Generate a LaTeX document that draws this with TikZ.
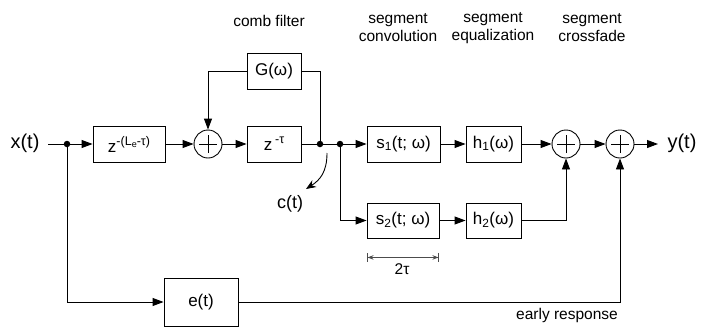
\documentclass[tikz,border=0pt]{standalone}
\usepackage{fontspec}
\setmainfont{Liberation Sans}
\usetikzlibrary{arrows.meta}
\newcommand{\supr}[1]{\raisebox{7pt}{\fontsize{12.5}{13}\selectfont #1}}
\newcommand{\subl}[1]{\raisebox{-2pt}{\fontsize{9}{9}\selectfont #1}}
\begin{document}
\begin{tikzpicture}[x=1pt,y=-1pt,
 blk/.style={draw,line width=0.9pt,minimum height=36pt,inner sep=0pt,font=\fontsize{17}{20}\selectfont},
 sumc/.style={draw,circle,minimum size=28pt,inner sep=0pt,line width=0.9pt},
 dotn/.style={circle,fill,inner sep=0pt,minimum size=6.5pt},
 conn/.style={line width=0.9pt},
 arr/.style={conn,-{Triangle[length=11pt,width=8pt]}},
 capt/.style={font=\fontsize{15.5}{18}\selectfont,align=center},
 big/.style={font=\fontsize{20}{24}\selectfont}]
\useasboundingbox (0,0) rectangle (712,327);

% top captions
\node[capt] (capcomb) at (269,21) {comb filter};
\node[capt] (capconv) at (398,28) {segment\\convolution};
\node[capt] (capeq) at (493,28) {segment\\equalization};
\node[capt] (capcf) at (592,28) {segment\\crossfade};

% nodes
\node[big] (x) at (25,143) {x(t)};
\coordinate (xin) at (48,144);
\node[dotn] (d1) at (67,144) {};
\node[blk,minimum width=72pt] (del) at (129,144) {z\supr{-(L\subl{e}-τ)}};
\node[sumc] (s1sum) at (208,144) {};
\node[blk,minimum width=54pt] (zt) at (274,144) {z\,\supr{-τ}};
\node[blk,minimum width=54pt] (G) at (274,71) {G(ω)};
\node[dotn] (d2) at (320,144) {};
\node[dotn] (d3) at (340,144) {};
\node[blk,minimum width=73pt] (s1) at (403.5,144) {s\textsubscript{1}(t; ω)};
\node[blk,minimum width=55pt] (h1) at (493.5,144) {h\textsubscript{1}(ω)};
\node[sumc] (sum2) at (566,144) {};
\node[sumc] (sum3) at (620,144) {};
\coordinate (yout) at (658,144);
\node[big] (y) at (682,143) {y(t)};
\node[blk,minimum width=72pt,minimum height=35pt] (s2) at (403,220.5) {s\textsubscript{2}(t; ω)};
\node[blk,minimum width=55pt,minimum height=35pt] (h2) at (493.5,220.5) {h\textsubscript{2}(ω)};
\node[blk,minimum width=74pt,minimum height=48pt] (e) at (201,302) {e(t)};
\node[capt] (early) at (567,315) {early response};
\node[font=\fontsize{18}{20}\selectfont] (ct) at (290,204) {c(t)};
\coordinate (cs) at (327,153);
\coordinate (ce) at (306,189);

% plus signs
\foreach \n in {s1sum,sum2,sum3}{
  \draw[conn] ([xshift=-9pt]\n.center) -- ([xshift=9pt]\n.center);
  \draw[conn] ([yshift=-9pt]\n.center) -- ([yshift=9pt]\n.center);
}

% connectors
\draw[conn] (xin) -- (d1);
\draw[arr] (d1) -- (del);
\draw[arr] (del) -- (s1sum);
\draw[arr] (s1sum) -- (zt);
\draw[conn] (zt) -- (d2);
\draw[conn] (d2) -- (d3);
\draw[arr] (d3) -- (s1);
\draw[arr] (s1) -- (h1);
\draw[arr] (h1) -- (sum2);
\draw[arr] (sum2) -- (sum3);
\draw[arr] (sum3) -- (yout);
\draw[conn] (G.east) -| (d2);
\draw[arr] (G.west) -| (s1sum.north);
\draw[arr] (d3) |- (s2.west);
\draw[arr] (s2) -- (h2);
\draw[arr] (h2.east) -| (sum2.south);
\draw[arr] (d1) |- (e.west);
\draw[arr] (e.east) -| (sum3.south);
\draw[conn,-{Stealth[length=10pt,width=8pt]}] (cs) .. controls (327,172) and (320,180) .. (ce);

% 2tau dimension
\draw[gray!60!black,line width=1pt,{Bar[width=9pt]Stealth[length=6pt,width=4.5pt]}-{Stealth[length=6pt,width=4.5pt]Bar[width=9pt]}]
  ([yshift=-19pt]s2.south west) -- ([yshift=-19pt]s2.south east);
\node[font=\fontsize{15.5}{18}\selectfont] (tau2) at (402,269) {2τ};
\end{tikzpicture}
\end{document}
